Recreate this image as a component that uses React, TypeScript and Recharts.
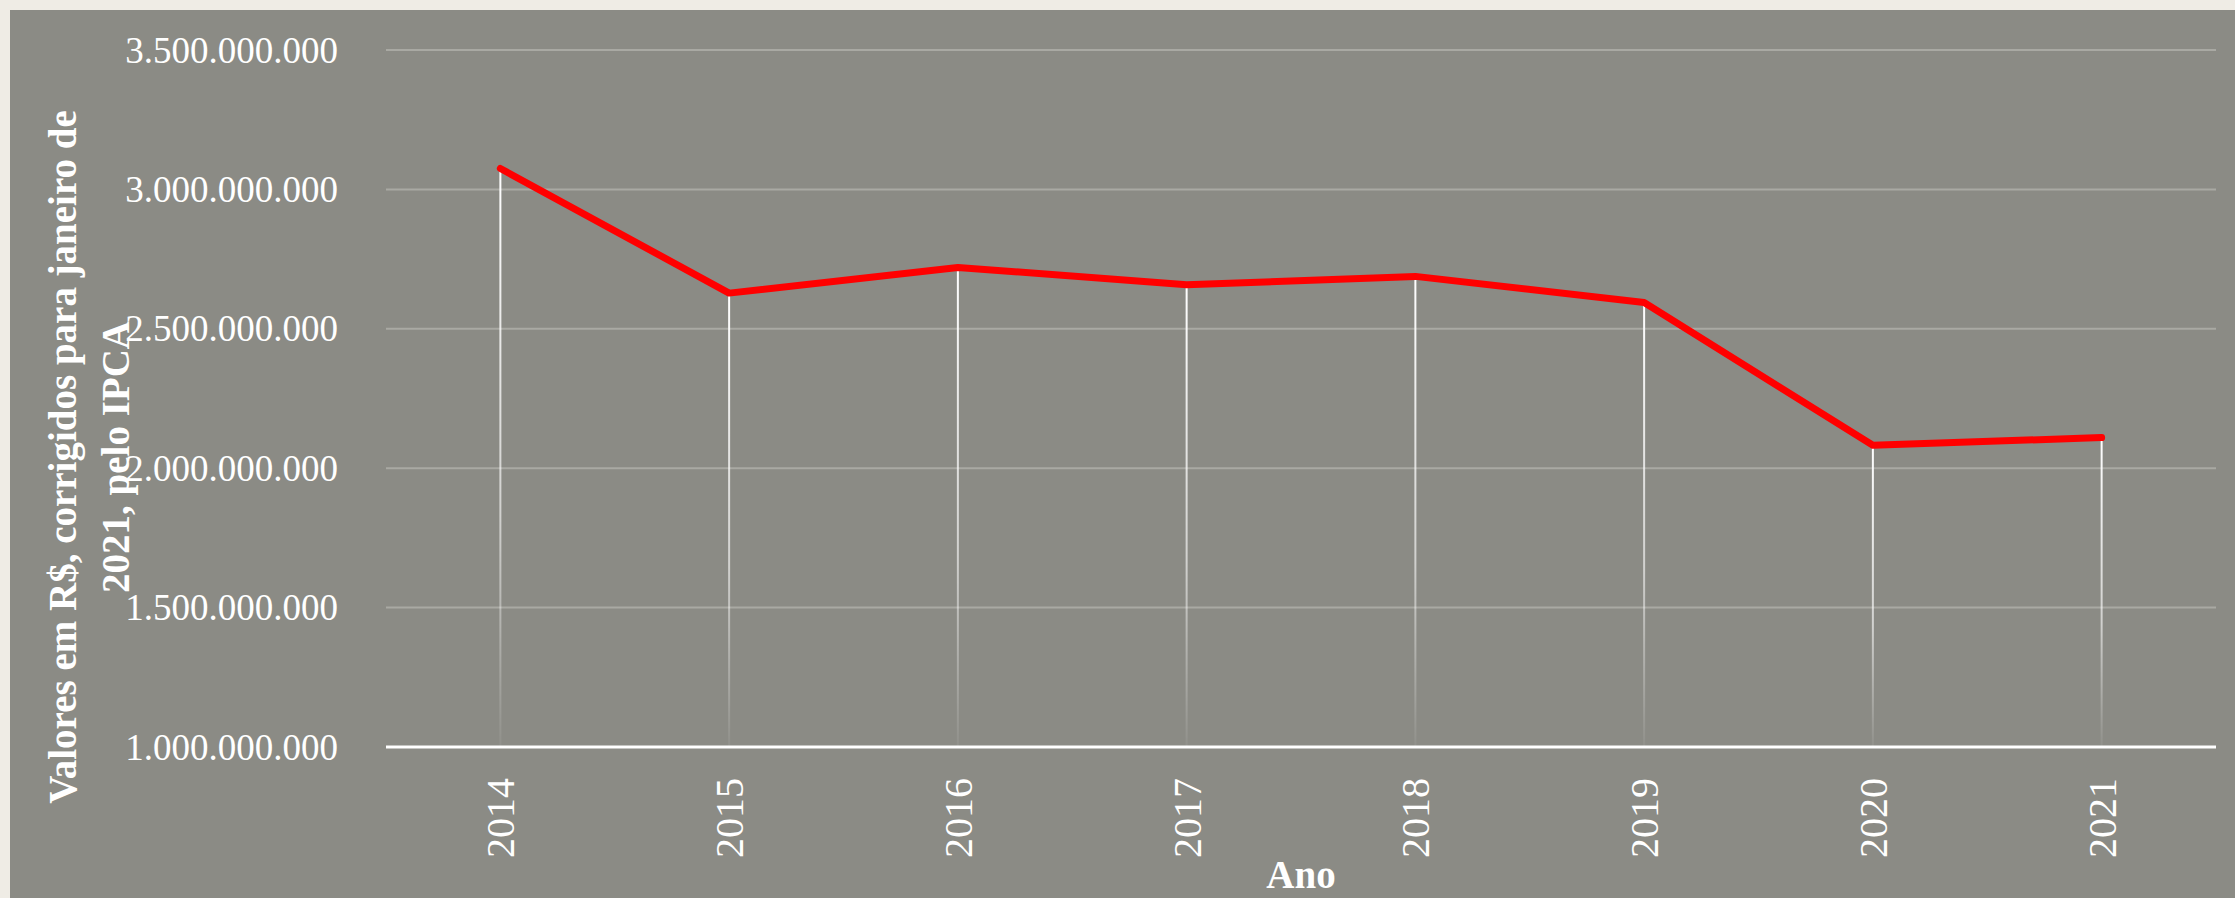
import React from 'react';
import {
  ComposedChart,
  Line,
  Bar,
  XAxis,
  YAxis,
  CartesianGrid,
  Label,
} from 'recharts';

// valores corrigidos pelo IPCA (jan/2021)
const anos = ['2014', '2015', '2016', '2017', '2018', '2019', '2020', '2021'];
const valores = [
  3075000000, 2628000000, 2720000000, 2658000000, 2688000000, 2594000000, 2082000000, 2110000000,
];
const yTicks = [1000000000, 1500000000, 2000000000, 2500000000, 3000000000, 3500000000];

const data = anos.map((ano, i) => ({ ano, valor: valores[i] }));

const FONT = '"Liberation Serif", "Times New Roman", serif';

const fmt = (v: number) => v.toLocaleString('de-DE');

const YTick = (props: any) => {
  const { x, y, payload } = props;
  return (
    <text x={x} y={y} dy="0.34em" textAnchor="end" fill="#ffffff" fontSize={37} fontFamily={FONT}>
      {fmt(payload.value)}
    </text>
  );
};

const XTick = (props: any) => {
  const { x, y, payload } = props;
  return (
    <text
      x={x}
      y={y}
      dy="0.35em"
      textAnchor="end"
      transform={`rotate(-90 ${x} ${y})`}
      fill="#ffffff"
      fontSize={40}
      fontFamily={FONT}
    >
      {payload.value}
    </text>
  );
};

// linha vertical branca que some perto do eixo
const DropLine = (props: any) => {
  const { x, y, width, height } = props;
  if (height == null || height <= 0) return null;
  return <rect x={x + width / 2 - 1} y={y} width={2} height={height} fill="url(#fadeDrop)" />;
};

const YLabel = (props: any) => {
  const cy = 447;
  return (
    <g fill="#ffffff" fontSize={39} fontWeight="bold" fontFamily={FONT}>
      <text x={66} y={cy} textAnchor="middle" transform={`rotate(-90 66 ${cy})`}>
        Valores em R$, corrigidos para janeiro de
      </text>
      <text x={119} y={cy} textAnchor="middle" transform={`rotate(-90 119 ${cy})`}>
        2021, pelo IPCA
      </text>
    </g>
  );
};

const XLabel = (props: any) => {
  const vb = props.viewBox;
  return (
    <text
      x={vb.x + vb.width / 2}
      y={vb.y + 141}
      textAnchor="middle"
      fill="#ffffff"
      fontSize={39}
      fontWeight="bold"
      fontFamily={FONT}
    >
      Ano
    </text>
  );
};

export default function App() {
  return (
    <div
      style={{
        position: 'fixed',
        left: 0,
        top: 0,
        width: 2235,
        height: 898,
        background: '#efece5',
        overflow: 'hidden',
      }}
    >
      <div
        style={{
          position: 'absolute',
          left: 10,
          top: 10,
          width: 2225,
          height: 888,
          background: '#8b8b85',
        }}
      >
        <ComposedChart
          width={2225}
          height={888}
          data={data}
          margin={{ top: 40, right: 19, left: 0, bottom: 0 }}
        >
          <defs>
            <linearGradient id="fadeDrop" x1="0" y1="0" x2="0" y2="1">
              <stop offset="0%" stopColor="#ffffff" stopOpacity={1} />
              <stop offset="60%" stopColor="#ffffff" stopOpacity={0.6} />
              <stop offset="100%" stopColor="#ffffff" stopOpacity={0.05} />
            </linearGradient>
          </defs>
          <CartesianGrid vertical={false} stroke="#a9a9a3" strokeWidth={2} />
          <XAxis
            dataKey="ano"
            height={151}
            tick={<XTick />}
            tickLine={false}
            tickSize={6}
            tickMargin={25}
            axisLine={{ stroke: '#ffffff', strokeWidth: 3 }}
            interval={0}
          >
            <Label content={<XLabel />} />
          </XAxis>
          <YAxis
            width={376}
            domain={[1000000000, 3500000000]}
            ticks={yTicks}
            tick={<YTick />}
            tickLine={false}
            tickSize={8}
            tickMargin={40}
            axisLine={false}
            interval={0}
          >
            <Label content={<YLabel />} />
          </YAxis>
          <Bar dataKey="valor" shape={<DropLine />} isAnimationActive={false} />
          <Line
            type="linear"
            dataKey="valor"
            stroke="#ff0000"
            strokeWidth={7}
            strokeLinecap="round"
            strokeLinejoin="round"
            dot={false}
            activeDot={false}
            isAnimationActive={false}
          />
        </ComposedChart>
      </div>
    </div>
  );
}
